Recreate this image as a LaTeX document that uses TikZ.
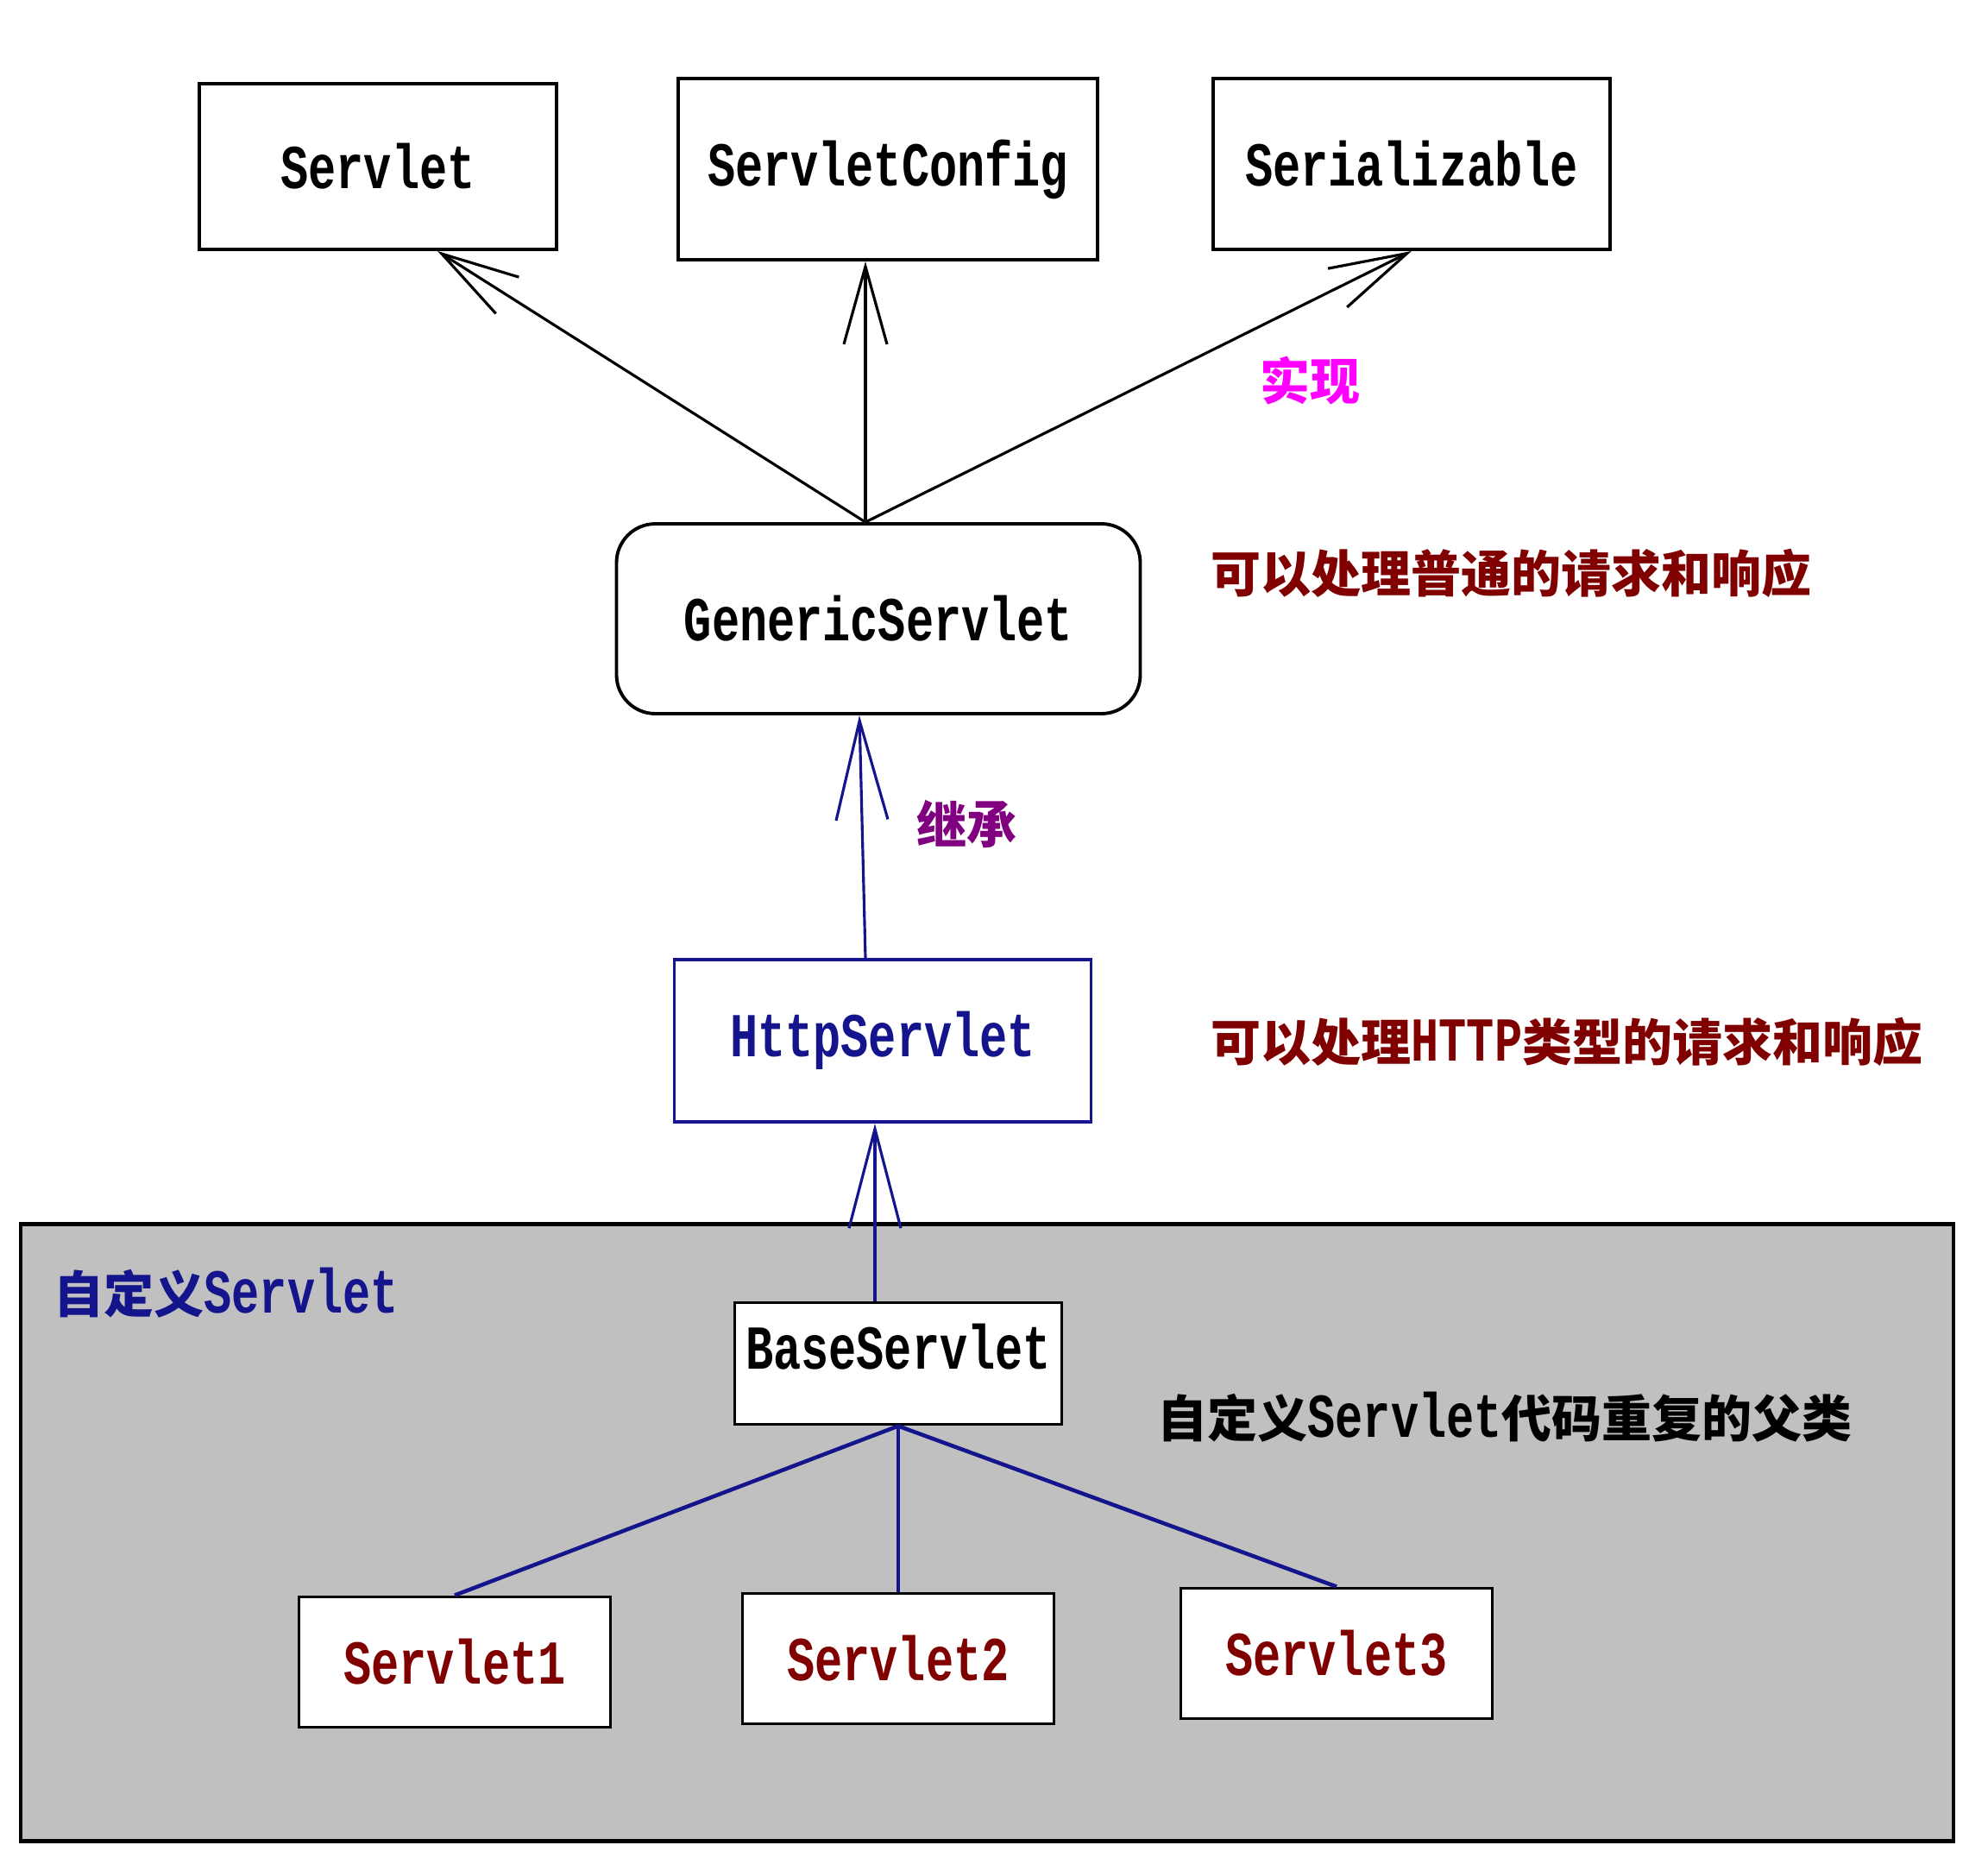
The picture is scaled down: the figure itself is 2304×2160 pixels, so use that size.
\documentclass[tikz,border=0pt]{standalone}
\usepackage{fontspec}
\usetikzlibrary{arrows.meta,calc,positioning}
\newfontfamily\cjk{Noto Sans CJK SC}
\newfontfamily\mono[FakeStretch=0.74]{Liberation Mono}
\definecolor{darkred}{RGB}{128,0,0}
\definecolor{navyblue}{RGB}{20,20,140}
\definecolor{panelgray}{RGB}{192,192,192}
\definecolor{inheritpurple}{RGB}{128,0,128}
\definecolor{implmagenta}{RGB}{255,0,255}
\newcommand{\cls}[1]{{\mono\bfseries\fontsize{20.6}{24}\selectfont #1}}
\newcommand{\zh}[1]{{\cjk\bfseries\fontsize{16.5}{20}\selectfont #1}}

\begin{document}
\begin{tikzpicture}[x=0.1mm, y=-0.1mm]
    \tikzset{classbox/.style = {draw, line width=1.1pt, fill=white, inner sep=0pt},
      note/.style = {anchor=west, inner sep=0pt},
      implarrow/.style = {line width=0.9pt, -{Straight Barb[length=9mm,width=5mm]}},
      inheritarrow/.style = {draw=navyblue, line width=0.9pt, -{Straight Barb[length=11.5mm,width=6mm]}},
      childline/.style = {draw=navyblue, line width=1.3pt}}
    \fill[white] (0,0) rectangle (2304,2160);
    \useasboundingbox (0,0) rectangle (2304,2160);
    \node[draw, fill=panelgray, line width=1.2pt, minimum width=22.4cm, minimum height=7.15cm] (custom) at (1144,1776) {};
    \node[classbox, minimum width=4.14cm, minimum height=1.92cm] (servlet) at (438,193) {\cls{Servlet}};
    \node[classbox, minimum width=4.86cm, minimum height=2.10cm] (config) at (1029,196) {\cls{ServletConfig}};
    \node[classbox, minimum width=4.60cm, minimum height=1.98cm] (serial) at (1636,190) {\cls{Serializable}};
    \node[classbox, rounded corners=4.5mm, minimum width=6.07cm, minimum height=2.20cm] (generic) at (1018,717) {\cls{GenericServlet}};
    \node[classbox, draw=navyblue, text=navyblue, minimum width=4.83cm, minimum height=1.88cm] (http) at (1023,1206) {\cls{HttpServlet}};
    \node[classbox, minimum width=3.79cm, minimum height=1.41cm] (base) at (1041,1580) {\raisebox{4mm}{\cls{BaseServlet}}};
    \foreach \n/\x/\y in {1/527/1926, 2/1041/1922, 3/1549/1916}
      \node[classbox, text=darkred, minimum width=3.61cm, minimum height=1.51cm] (s\n) at (\x,\y) {\cls{Servlet\n}};
    \node[text=implmagenta, inner sep=0pt] (impl) at (1518,441) {\zh{实现}};
    \node[note, text=darkred] (genericnote) at (1403,664) {\zh{可以处理普通的请求和响应}};
    \node[text=inheritpurple, inner sep=0pt] (inherit) at (1120,955) {\zh{继承}};
    \node[note, text=darkred] (httpnote) at (1403,1207) {\zh{可以处理}\cls{HTTP}\zh{类型的请求和响应}};
    \node[note, text=navyblue] (customtitle) at (62,1498) {\zh{自定义}\cls{Servlet}};
    \node[note] (basenote) at (1341,1642) {\zh{自定义}\cls{Servlet}\zh{代码重复的父类}};
    \coordinate (gtop) at ([xshift=-1.5mm]generic.north);
    \draw[implarrow] (gtop) -- ([xshift=6.9mm]servlet.south);
    \draw[implarrow] (gtop) -- (gtop |- config.south);
    \draw[implarrow] (gtop) -- (serial.south);
    \coordinate (htop) at ([xshift=-2mm]http.north);
    \draw[inheritarrow] (htop) -- ([xshift=-2.2mm]generic.south);
    \coordinate (btop) at ([xshift=-2.7mm]base.north);
    \draw[inheritarrow] (btop) -- (btop |- http.south);
    \foreach \s in {s1,s2,s3}
      \draw[childline] (base.south) -- (\s.north);
  \end{tikzpicture}
\end{document}
